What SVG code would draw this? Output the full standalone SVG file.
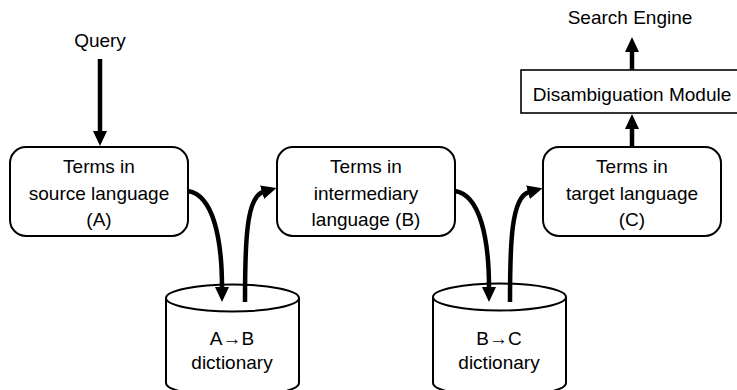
<svg xmlns="http://www.w3.org/2000/svg" width="737" height="390" viewBox="0 0 737 390">
<style>
text{font-family:"Liberation Sans",Arial,sans-serif;font-size:19px;fill:#000;text-anchor:middle}
.box{fill:#fff;stroke:#000;stroke-width:2}
.cyl{fill:#fff;stroke:#000;stroke-width:2}
.con{fill:none;stroke:#000;stroke-width:4.5}
</style>
<defs>
<marker id="ah" viewBox="0 0 15 14" refX="1" refY="7" markerWidth="15" markerHeight="14" markerUnits="userSpaceOnUse" orient="auto">
<path d="M0,0 L15,7 L0,14 z" fill="#000"/>
</marker>
</defs>
<g id="query"><text x="100" y="47">Query</text></g>
<g id="search-engine"><text x="630" y="24">Search Engine</text></g>
<g id="disambiguation">
<rect class="box" x="521" y="70" width="222" height="43" style="stroke-width:1.6"/>
<text x="632" y="101">Disambiguation Module</text>
</g>
<g id="terms-a">
<rect class="box" x="10" y="147" width="178" height="89" rx="16"/>
<text x="99" y="173">Terms in</text>
<text x="99" y="200">source language</text>
<text x="99" y="226">(A)</text>
</g>
<g id="terms-b">
<rect class="box" x="277" y="147" width="178" height="89" rx="16"/>
<text x="366" y="173">Terms in</text>
<text x="366" y="200">intermediary</text>
<text x="366" y="226">language (B)</text>
</g>
<g id="terms-c">
<rect class="box" x="543" y="147" width="178" height="89" rx="16"/>
<text x="632" y="173">Terms in</text>
<text x="632" y="200">target language</text>
<text x="632" y="226">(C)</text>
</g>
<g id="dict-ab">
<path class="cyl" d="M166,298 L166,383 A66.5,13.5 0 0 0 299,383 L299,298"/>
<ellipse class="cyl" cx="232.5" cy="298" rx="66.5" ry="13.5"/>
<text x="232" y="345">A→B</text>
<text x="232" y="369">dictionary</text>
</g>
<g id="dict-bc">
<path class="cyl" d="M433,297 L433,383 A66.5,13.5 0 0 0 566,383 L566,297"/>
<ellipse class="cyl" cx="499.5" cy="297" rx="66.5" ry="13.5"/>
<text x="499" y="345">B→C</text>
<text x="499" y="369">dictionary</text>
</g>
<g id="connectors">
<path class="con" d="M100,59 L100,132" marker-end="url(#ah)"/>
<path class="con" d="M632,147 L632,128" marker-end="url(#ah)"/>
<path class="con" d="M632,70 L632,51" marker-end="url(#ah)"/>
<path class="con" d="M188,191 C213,195 222,238 222,288" marker-end="url(#ah)"/>
<path class="con" d="M245,302 C245,245 246,197 263,192" marker-end="url(#ah)"/>
<path class="con" d="M455,191 C480,195 489,238 489,288" marker-end="url(#ah)"/>
<path class="con" d="M510,302 C510,245 511,197 529,192" marker-end="url(#ah)"/>
</g>
</svg>
